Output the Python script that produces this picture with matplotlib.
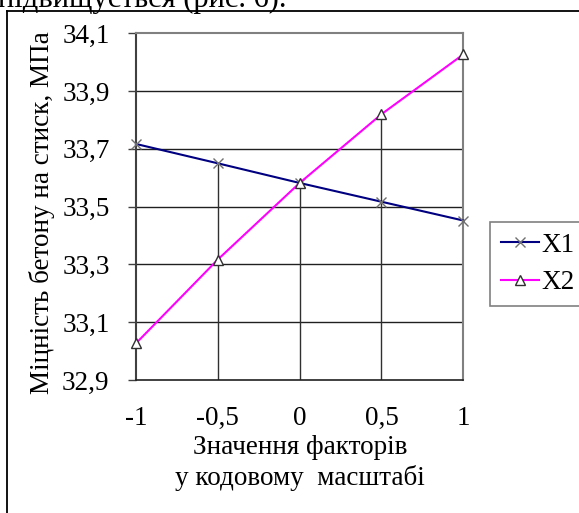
import matplotlib
matplotlib.use("Agg")
import matplotlib.pyplot as plt
from matplotlib.lines import Line2D
import numpy as np

plt.rcParams['font.family'] = ['Liberation Serif', 'DejaVu Serif']

# Data
x_vals = [-1, -0.5, 0, 0.5, 1]
x_labels = ['-1', '-0,5', '0', '0,5', '1']
X1 = [33.717, 33.650, 33.582, 33.517, 33.452]
X2 = [33.027, 33.317, 33.582, 33.820, 34.027]
y_ticks = [32.9, 33.1, 33.3, 33.5, 33.7, 33.9, 34.1]
y_labels = ['32,9', '33,1', '33,3', '33,5', '33,7', '33,9', '34,1']
series_names = ['X1', 'X2']

FS = 19.5
W, H = 579, 513
fig = plt.figure(figsize=(W / 100, H / 100), dpi=100)

ax = fig.add_axes([136 / W, 1 - 380 / H, (463.3 - 136) / W, (380 - 33.3) / H])
ax.set_xlim(-1, 1)
ax.set_ylim(32.9, 34.1)

# horizontal gridlines
for yv in y_ticks[1:-1]:
    ax.axhline(yv, color='#202020', lw=1.0, zorder=1)

# drop lines from the highest point at each category
tops = np.maximum(X1, X2)
ax.vlines(x_vals[1:], 32.9, tops[1:], color='#303030', lw=1.0, zorder=1)

ax.plot(x_vals, X1, color='#000080', lw=1.5, marker='x', markersize=7.5,
        markeredgecolor='#707070', markeredgewidth=1.0, label=series_names[0], zorder=3,
        clip_on=False)
ax.plot(x_vals, X2, color='#FF00FF', lw=1.5, marker='^', markersize=7.5,
        markerfacecolor='white', markeredgecolor='#303030', markeredgewidth=1.0,
        label=series_names[1], zorder=3, clip_on=False)

for s in ['top', 'right']:
    ax.spines[s].set_color('#808080')
    ax.spines[s].set_linewidth(1.5)
ax.spines['left'].set_color('#404040')
ax.spines['left'].set_linewidth(1.5)
ax.spines['bottom'].set_color('#202020')
ax.spines['bottom'].set_linewidth(1.2)

ax.set_yticks(y_ticks)
ax.set_yticklabels(y_labels)
ax.set_xticks(x_vals)
ax.set_xticklabels(x_labels)
ax.tick_params(axis='y', direction='out', length=6, width=1, color='#404040', pad=13, labelsize=FS)
ax.tick_params(axis='x', length=0, pad=19, labelsize=FS)

fig.text(42 / W, 1 - 213 / H, 'Міцність бетону на стиск, МПа', rotation=90,
         ha='center', va='center', fontsize=FS)
fig.text(300 / W, 1 - 447 / H, 'Значення факторів', ha='center', va='center', fontsize=FS)
fig.text(300 / W, 1 - 478 / H, 'у кодовому  масштабі', ha='center', va='center', fontsize=FS)

# clipped paragraph text at top
fig.text(-0.003, 1 - 7 / H, 'підвищується (рис. 6).', ha='left', va='baseline', fontsize=22)

# outer frame
fig.add_artist(Line2D([7 / W, 7 / W], [0, 1 - 10.5 / H], transform=fig.transFigure, color='black', lw=1.3))
fig.add_artist(Line2D([7 / W, 1], [1 - 10.5 / H, 1 - 10.5 / H], transform=fig.transFigure, color='black', lw=1.3))

leg = fig.legend(loc='upper left', bbox_to_anchor=(490 / W, 1 - 222 / H), fontsize=FS,
                 frameon=True, fancybox=False, edgecolor='#606060', handlelength=1.4,
                 handletextpad=0.1, borderpad=0.4, labelspacing=0.45, borderaxespad=0)
leg.get_frame().set_linewidth(1.2)

fig.savefig('out.png', dpi=100)
